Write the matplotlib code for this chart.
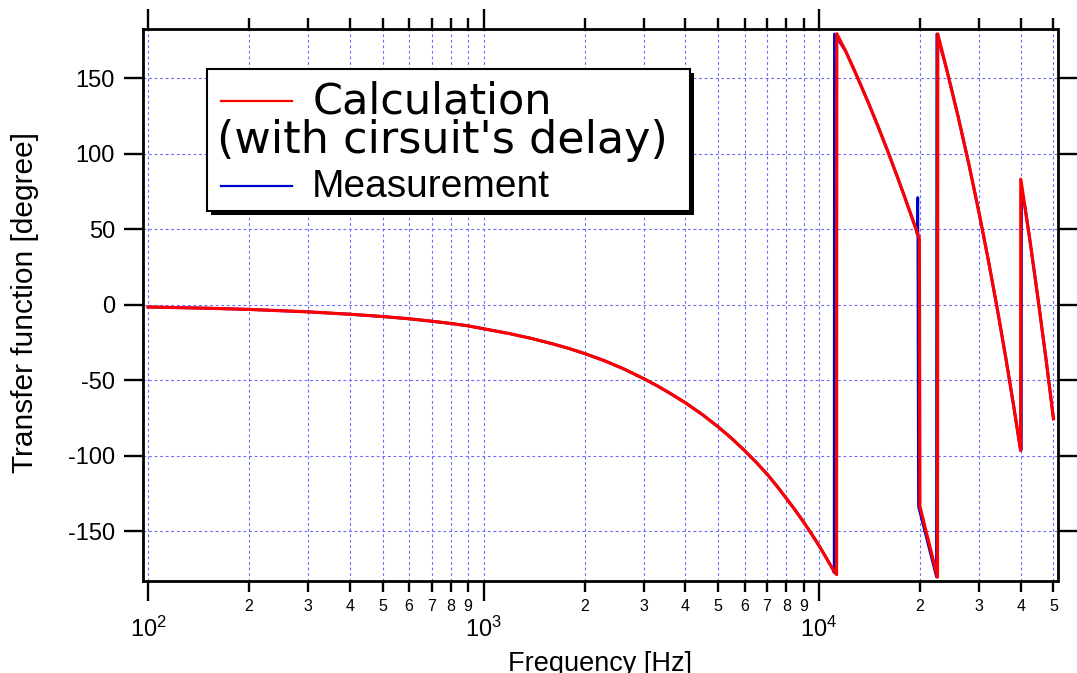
import math

import matplotlib

matplotlib.use("Agg")
import matplotlib.pyplot as plt
from matplotlib.lines import Line2D
from matplotlib.patches import Rectangle
from matplotlib.ticker import FixedLocator, FuncFormatter, LogLocator, NullLocator

# --- data ------------------------------------------------------------------
CALC_FREQ_HZ = [
    100, 150, 200, 300, 400, 500, 600, 700, 800, 900,
    1000, 1200, 1400, 1600, 1800, 2000, 2300, 2600, 3000, 3300,
    3600, 4000, 4500, 5000, 5500, 6000, 6500, 7000, 7500, 8000,
    8500, 9000, 9500, 10000, 10500, 11000, 11280, 11300, 12000, 12890,
    14000, 15000, 16020, 17000, 18000, 19000, 19540, 19910, 19990, 22550,
    22600, 24000, 26000, 28000, 30000, 32000, 34000, 36000, 38000, 39900,
    39950, 42500, 45000, 47500, 50000,
]
CALC_PHASE_DEG = [
    -1.5, -2.3, -3.1, -4.7, -6.3, -7.8, -9.3, -10.9, -12.4, -14.0,
    -15.9, -19.2, -22.5, -25.8, -29.0, -32.3, -37.2, -42.2, -48.9, -53.8,
    -58.7, -65.0, -72.9, -80.8, -88.7, -96.6, -104.4, -112.2, -120.3, -128.4,
    -136.2, -144.0, -151.8, -159.6, -167.5, -175.3, -178.8, 179.5, 168.2, 152.9,
    134.4, 118.1, 101.9, 86.6, 71.5, 56.7, 49.0, 43.8, -133.6, -180.5,
    179.4, 156.3, 124.5, 92.7, 60.9, 29.1, -2.7, -34.5, -66.3, -96.5,
    83.2, 43.3, 3.4, -36.0, -75.5,
]

MEAS_FREQ_HZ = [
    100, 150, 200, 300, 400, 500, 600, 700, 800, 900,
    1000, 1200, 1400, 1600, 1800, 2000, 2300, 2600, 3000, 3300,
    3600, 4000, 4500, 5000, 5500, 6000, 6500, 7000, 7500, 8000,
    8500, 9000, 9500, 10000, 10500, 11000, 11100, 11120, 12000, 12890,
    14000, 15000, 16020, 17000, 18000, 19000, 19540, 19620, 19700, 19800,
    22400, 22450, 24000, 26000, 28000, 30000, 32000, 34000, 36000, 38000,
    39900, 40100, 40150, 41000, 42500, 45000, 47500, 50000,
]
MEAS_PHASE_DEG = [
    -1.5, -2.3, -3.1, -4.7, -6.3, -7.8, -9.3, -10.9, -12.4, -14.0,
    -15.9, -19.2, -22.5, -25.8, -29.0, -32.3, -37.2, -42.2, -48.9, -53.8,
    -58.7, -65.0, -72.9, -80.8, -88.7, -96.6, -104.4, -112.2, -120.3, -128.4,
    -136.2, -144.0, -151.8, -159.6, -167.5, -175.3, -177.5, 179.4, 168.2, 152.9,
    134.4, 118.1, 101.9, 86.6, 71.5, 56.7, 49.0, 47.0, 71.0, -133.6,
    -180.3, 179.4, 156.3, 124.5, 92.7, 60.9, 29.1, -2.7, -34.5, -66.3,
    -96.5, -96.0, 72.0, 66.6, 43.3, 3.4, -36.0, -75.5,
]

Y_TICKS = [-150, -100, -50, 0, 50, 100, 150]
X_LIMITS = (96.6, 51400)
Y_LIMITS = (-182.7, 182.5)

LEGEND_LINES = ["Calculation", "(with cirsuit's delay)", "Measurement"]

W_PX, H_PX = 1077, 673
GRID_COLOR = "#6b6bff"
CALC_COLOR = "#ff0000"
MEAS_COLOR = "#0000cc"


def fig_xy(px, py):
    """Pixel position (from top-left) to figure fraction."""
    return px / W_PX, 1.0 - py / H_PX


def decade_label(v, _pos):
    return r"$\mathregular{10^{%d}}$" % round(math.log10(v))


def digit_label(v, _pos):
    return str(int(round(v / 10 ** math.floor(math.log10(v) + 1e-9))))


plt.rcParams["font.family"] = ["Liberation Sans", "DejaVu Sans"]
plt.rcParams["axes.unicode_minus"] = False
plt.rcParams["mathtext.fontset"] = "custom"
plt.rcParams["mathtext.rm"] = "Liberation Sans"
plt.rcParams["mathtext.it"] = "Liberation Sans:italic"
plt.rcParams["mathtext.bf"] = "Liberation Sans:bold"

fig = plt.figure(figsize=(W_PX / 100, H_PX / 100), dpi=100)
ax = fig.add_axes([143 / W_PX, 1 - 580.5 / H_PX, 914.5 / W_PX, 551.2 / H_PX])

ax.plot(MEAS_FREQ_HZ, MEAS_PHASE_DEG, color=MEAS_COLOR, lw=2.0, zorder=3)
ax.plot(CALC_FREQ_HZ, CALC_PHASE_DEG, color=CALC_COLOR, lw=2.3, zorder=4)

ax.set_xscale("log")
ax.set_xlim(*X_LIMITS)
ax.set_ylim(*Y_LIMITS)

ax.xaxis.set_major_locator(LogLocator(base=10))
ax.xaxis.set_minor_locator(LogLocator(base=10, subs=[2, 3, 4, 5, 6, 7, 8, 9]))
ax.xaxis.set_major_formatter(FuncFormatter(decade_label))
ax.xaxis.set_minor_formatter(FuncFormatter(digit_label))
ax.yaxis.set_major_locator(FixedLocator(Y_TICKS))
ax.yaxis.set_minor_locator(NullLocator())

ax.tick_params(axis="x", which="major", direction="out", length=14.4, width=1.7,
               top=True, labelsize=17, pad=12)
ax.tick_params(axis="x", which="minor", direction="out", length=7.9, width=1.7,
               top=True, labelsize=11.5, pad=5.5)
ax.tick_params(axis="y", which="major", direction="out", length=13.7, width=1.7,
               right=True, labelsize=17, pad=6.5)

for side in ("left", "right", "top", "bottom"):
    ax.spines[side].set_linewidth(2.0)

ax.set_axisbelow(True)
grid_style = dict(color=GRID_COLOR, lw=0.8, linestyle=(0, (2.5, 2.5)))
ax.grid(True, which="major", axis="both", **grid_style)
ax.grid(True, which="minor", axis="x", **grid_style)

ax.set_ylabel("Transfer function [degree]", fontsize=21.5)
ax.yaxis.set_label_coords((39 - 143) / 914.5, (580.5 - 302.5) / 551.2)
ax.set_xlabel("Frequency [Hz]", fontsize=19.5)
ax.xaxis.set_label_coords(0.5, (580.5 - 651) / 551.2)

# --- legend box drawn Igor-style (shadowed box, wrapped label) -------------
box_l, box_t, box_r, box_b = 207, 69.5, 690, 210.5
shadow = 4
x0, y0 = fig_xy(box_l + shadow, box_b + shadow)
fig.add_artist(Rectangle((x0, y0), (box_r - box_l) / W_PX, (box_b - box_t) / H_PX,
                         transform=fig.transFigure, facecolor="black", edgecolor="none", zorder=5))
x0, y0 = fig_xy(box_l, box_b)
fig.add_artist(Rectangle((x0, y0), (box_r - box_l) / W_PX, (box_b - box_t) / H_PX,
                         transform=fig.transFigure, facecolor="white", edgecolor="black",
                         lw=1.5, zorder=6))

for color, py in ((CALC_COLOR, 100.7), (MEAS_COLOR, 186.0)):
    xa, ya = fig_xy(221, py)
    xb, _ = fig_xy(292, py)
    fig.add_artist(Line2D([xa, xb], [ya, ya], transform=fig.transFigure,
                          color=color, lw=1.6, zorder=7))

for text, px, py, family, size in (
    (LEGEND_LINES[0], 313, 113.3, "DejaVu Sans", 31),
    (LEGEND_LINES[1], 217, 153.3, "DejaVu Sans", 32),
    (LEGEND_LINES[2], 312, 197.3, "Liberation Sans", 28),
):
    tx, ty = fig_xy(px, py)
    fig.text(tx, ty, text, ha="left", va="baseline", fontsize=size,
             family=[family, "DejaVu Sans"], zorder=7)

fig.savefig("out.png", dpi=100)
